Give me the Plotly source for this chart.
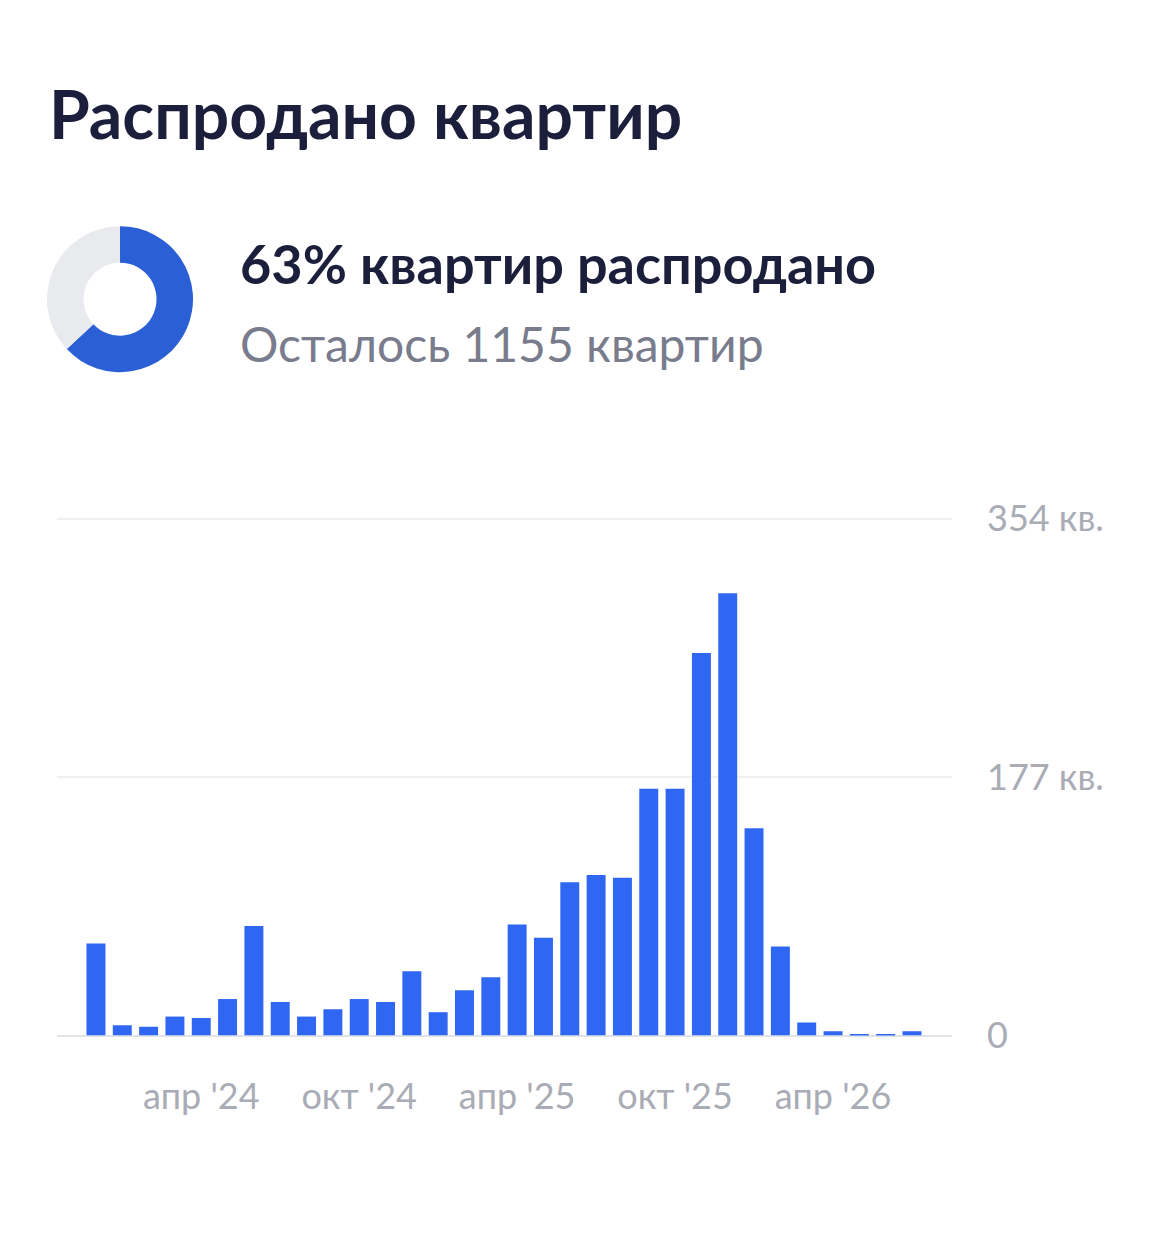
import plotly.graph_objects as go

W, H = 1170, 1247

# monthly sales, Dec '23 .. Jul '26
months = ["дек '23", "янв '24", "фев '24", "мар '24", "апр '24", "май '24", "июн '24", "июл '24",
          "авг '24", "сен '24", "окт '24", "ноя '24", "дек '24", "янв '25", "фев '25", "мар '25",
          "апр '25", "май '25", "июн '25", "июл '25", "авг '25", "сен '25", "окт '25", "ноя '25",
          "дек '25", "янв '26", "фев '26", "мар '26", "апр '26", "май '26", "июн '26", "июл '26"]
sold = [63, 7, 6, 13, 12, 25, 75, 23, 13, 18, 25, 23, 44, 16, 31, 40,
        76, 67, 105, 110, 108, 169, 169, 262, 303, 142, 61, 9, 3, 1, 1, 3]

tick_months = ["апр '24", "окт '24", "апр '25", "окт '25", "апр '26"]
y_ticks = [0, 177, 354]
y_labels = ["0", "177 кв.", "354 кв."]

share_sold = [63, 37]
share_labels = ["распродано", "осталось"]
remaining = 1155

FONT = "Lato, Roboto, sans-serif"
DARK = "#1B1F3B"
GREY_TEXT = "#797C8C"
AXIS_TEXT = "#A9ACB5"
BLUE = "#2F66F2"


def px(x):
    return x / W


def py(y):
    # screen y (px from top) -> paper fraction, with a small correction
    # for how the page ends up being captured vertically
    y = (y - 23) / 0.965
    return 1 - y / H


fig = go.Figure()

fig.add_trace(go.Bar(
    x=months, y=sold,
    marker=dict(color=BLUE, line=dict(width=0)),
    hoverinfo="x+y",
    showlegend=False,
))

fig.add_trace(go.Pie(
    values=share_sold, labels=share_labels,
    hole=0.5, sort=False, direction="clockwise", rotation=0,
    marker=dict(colors=["#2A5FD6", "#E9EAEE"], line=dict(width=0)),
    textinfo="none", hoverinfo="label+percent",
    domain=dict(x=[px(47), px(193)], y=[py(373), py(227)]),
    showlegend=False,
))

fig.add_annotation(x=px(47), y=py(114), xref="paper", yref="paper", xanchor="left", yanchor="middle",
                   text="<b>Распродано квартир</b>", showarrow=False,
                   font=dict(family=FONT, size=66, color=DARK))
fig.add_annotation(x=px(238), y=py(264), xref="paper", yref="paper", xanchor="left", yanchor="middle",
                   text=f"<b>{share_sold[0]}% квартир распродано</b>", showarrow=False,
                   font=dict(family=FONT, size=54, color=DARK))
fig.add_annotation(x=px(238), y=py(344), xref="paper", yref="paper", xanchor="left", yanchor="middle",
                   text=f"Осталось {remaining} квартир", showarrow=False,
                   font=dict(family=FONT, size=48, color=GREY_TEXT))

fig.update_layout(
    width=W, height=H,
    margin=dict(l=0, r=0, t=0, b=0),
    paper_bgcolor="white", plot_bgcolor="white",
    bargap=0.28,
    font=dict(family=FONT),
    xaxis=dict(
        domain=[px(57), px(952)],
        type="category",
        range=[-1.48, len(months) - 1 + 1.52],
        tickmode="array", tickvals=tick_months, ticktext=tick_months,
        showgrid=False, zeroline=False, showline=False, ticks="",
        tickfont=dict(family=FONT, size=36, color=AXIS_TEXT),
        ticklabelstandoff=36,
    ),
    yaxis=dict(
        domain=[py(1036), py(518)],
        range=[0, 355],
        side="right",
        tickmode="array", tickvals=y_ticks, ticktext=y_labels,
        showgrid=True, gridcolor="#F0F0F2", gridwidth=2,
        zeroline=True, zerolinecolor="#E2E3E7", zerolinewidth=2,
        showline=False, ticks="",
        tickfont=dict(family=FONT, size=36, color=AXIS_TEXT),
        ticklabelstandoff=34,
    ),
)

fig.write_html("out.html", config={"displayModeBar": False},
               post_script="document.body.style.margin = '0';")
